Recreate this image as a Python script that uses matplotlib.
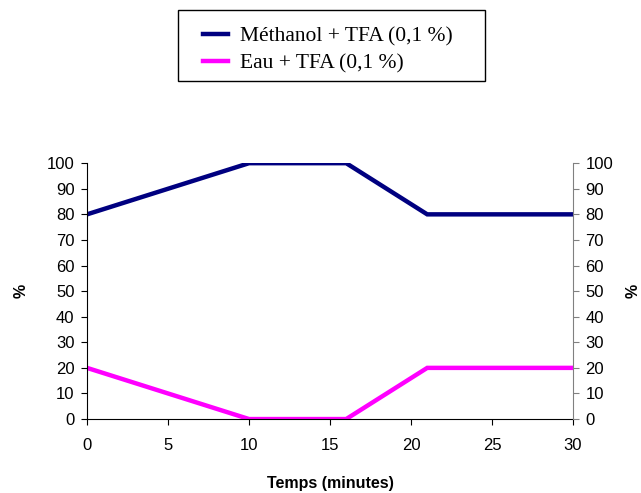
import matplotlib
matplotlib.use('Agg')
import matplotlib.pyplot as plt
from matplotlib.patches import Rectangle

temps = [0, 10, 16, 21, 30]
methanol = [80, 100, 100, 80, 80]
eau = [20, 0, 0, 20, 20]
x_ticks = [0, 5, 10, 15, 20, 25, 30]
y_ticks = [0, 10, 20, 30, 40, 50, 60, 70, 80, 90, 100]

plt.rcParams['font.family'] = 'Liberation Sans'

W, H = 641, 493
fig = plt.figure(figsize=(W / 100, H / 100), dpi=100)
ax = fig.add_axes([0.1357, 0.150, 0.7583, 0.519])

l1, = ax.plot(temps, methanol, color='#000080', lw=3.2,
              solid_joinstyle='miter', label='Méthanol + TFA (0,1 %)')
l2, = ax.plot(temps, eau, color='#FF00FF', lw=3.2,
              solid_joinstyle='miter', label='Eau + TFA (0,1 %)')

ax.set_xlim(0, 30)
ax.set_ylim(0, 100)
ax.set_xticks(x_ticks)
ax.set_yticks(y_ticks)
ax.spines['top'].set_visible(False)
ax.spines['right'].set_visible(False)
ax.tick_params(direction='out', length=4, labelsize=12, pad=5)
ax.tick_params(axis='x', pad=10)
ax.set_xlabel('Temps (minutes)', fontsize=11.5, fontweight='bold', labelpad=16)
ax.set_ylabel('%', fontsize=11.5, fontweight='bold', labelpad=13)

ax2 = ax.twinx()
ax2.set_ylim(0, 100)
ax2.set_yticks(y_ticks)
ax2.spines['top'].set_visible(False)
ax2.spines['left'].set_visible(False)
ax2.spines['bottom'].set_visible(False)
ax2.spines['right'].set_color('#808080')
ax2.tick_params(direction='out', length=4, labelsize=12, color='#808080', pad=5)
ax2.set_ylabel('%', fontsize=11.5, fontweight='bold', labelpad=9)

# legend box drawn separately so the padding can differ per side
fig.patches.append(Rectangle((178 / W, 1 - 81 / H), 307 / W, 71 / H,
                             transform=fig.transFigure, fill=False,
                             edgecolor='black', lw=1.0))
fig.legend(handles=[l1, l2], loc='upper left',
           bbox_to_anchor=(203 / W, 1 - 26 / H),
           prop={'family': 'Liberation Serif', 'size': 15.5},
           frameon=False, handlelength=1.15, handletextpad=0.55,
           labelspacing=0.33, borderpad=0, borderaxespad=0)

fig.savefig('out.png', dpi=100)
